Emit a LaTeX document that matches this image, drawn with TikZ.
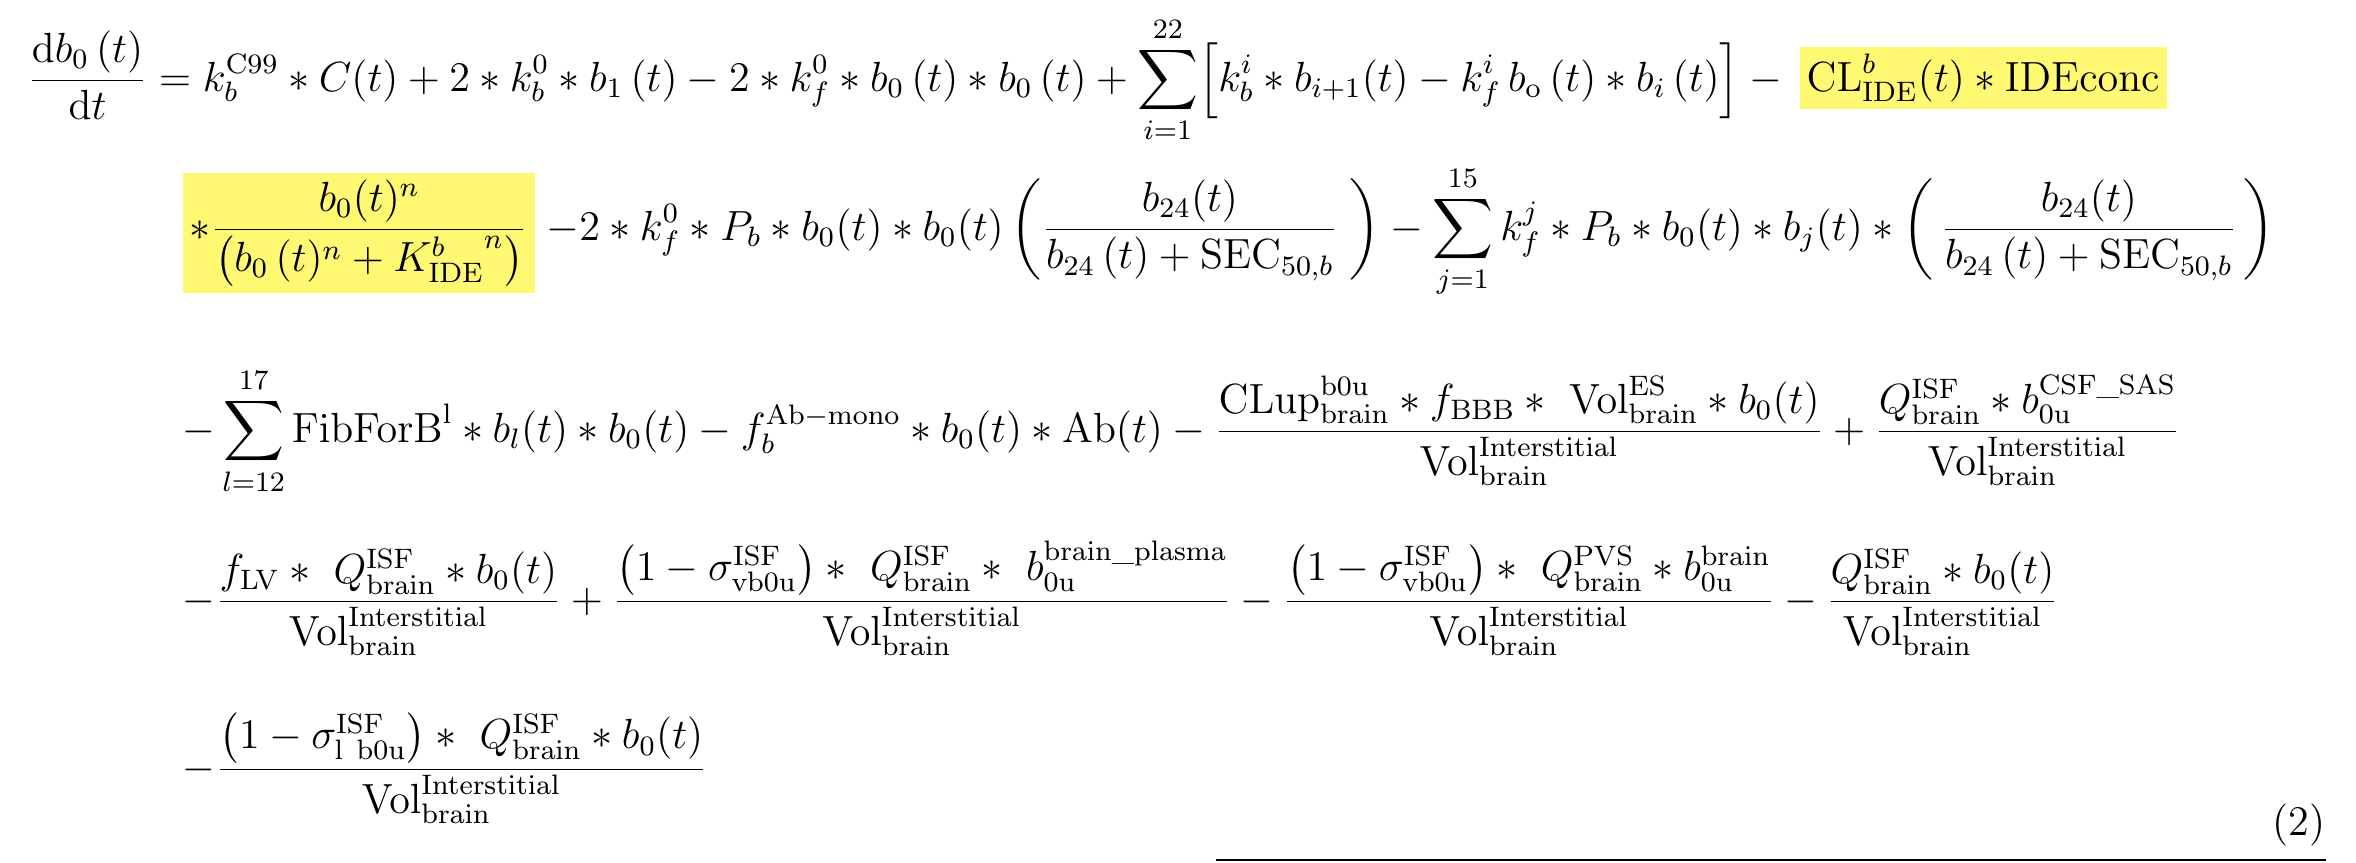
\documentclass[tikz,border=0pt]{standalone}
\usepackage{amsmath}
\usetikzlibrary{positioning}
\newcommand{\volint}{\mathrm{Vol}^{\mathrm{Interstitial}}_{\mathrm{brain}}}
\newcommand{\qisf}{Q^{\mathrm{ISF}}_{\mathrm{brain}}}
\newcommand{\secfrac}{\frac{b_{24}(t)}{b_{24}\,(t)+\mathrm{SEC}_{50,b}}}
\tikzset{eqline/.style={anchor=base west,inner sep=0pt,font=\large},
hilite/.style={eqline,fill=yellow!55,inner sep=2pt}}
\begin{document}
\begin{tikzpicture}
\useasboundingbox (0,0) rectangle (23.56,-8.62);
% first line
\node (la) [eqline] at (0.27,-0.91) {$\displaystyle \frac{\mathrm{d}b_0\,(t)}{\mathrm{d}t} = k_b^{\mathrm{C99}} * C(t) + 2*k_b^0*b_1\,(t) - 2*k_f^0*b_0\,(t)*b_0\,(t) + \sum_{i=1}^{22}\Bigl[k_b^i*b_{i+1}(t) - k_f^i\, b_{\mathrm{o}}\,(t)*b_i\,(t)\Bigr] -{}$};
\node (lb) [hilite,right=2pt of la.base east,anchor=base west] {$\displaystyle \mathrm{CL}_{\mathrm{IDE}}^{b}(t)*\mathrm{IDEconc}$};
% second line
\node (lc) [hilite] at (1.82,-2.40) {$\displaystyle *\frac{b_0(t)^n}{\bigl(b_0\,(t)^n + {K_{\mathrm{IDE}}^{b}}^{n}\bigr)}$};
\node (ld) [eqline,right=3pt of lc.base east,anchor=base west] {$\displaystyle -2*k_f^0*P_b*b_0(t)*b_0(t)\left(\secfrac\;\right) - \sum_{j=1}^{15} k_f^j*P_b*b_0(t)*b_j(t)*\left(\,\secfrac\,\right)$};
% third line
\node (le) [eqline] at (1.82,-4.42) {$\displaystyle -\sum_{l=12}^{17}\mathrm{FibForB}^{\mathrm{l}}*b_l(t)*b_0(t) - f_b^{\mathrm{Ab-mono}}*b_0(t)*\mathrm{Ab}(t) - \frac{\mathrm{CLup}^{\mathrm{b0u}}_{\mathrm{brain}}*f_{\mathrm{BBB}}*\ \mathrm{Vol}^{\mathrm{ES}}_{\mathrm{brain}}*b_0(t)}{\volint} + \frac{\qisf*b^{\mathrm{CSF\_SAS}}_{0\mathrm{u}}}{\volint}$};
% fourth line
\node (lf) [eqline] at (1.82,-6.12) {$\displaystyle -\frac{f_{\mathrm{LV}}*\ \qisf*b_0(t)}{\volint} + \frac{\bigl(1-\sigma^{\mathrm{ISF}}_{\mathrm{vb0u}}\bigr)*\ \qisf*\ b^{\mathrm{brain\_plasma}}_{0\mathrm{u}}}{\volint} - \frac{\bigl(1-\sigma^{\mathrm{ISF}}_{\mathrm{vb0u}}\bigr)*\ Q^{\mathrm{PVS}}_{\mathrm{brain}}*b^{\mathrm{brain}}_{0\mathrm{u}}}{\volint} - \frac{\qisf*b_0(t)}{\volint}$};
% fifth line
\node (lg) [eqline] at (1.82,-7.80) {$\displaystyle -\frac{\bigl(1-\sigma^{\mathrm{ISF}}_{\mathrm{l\ b0u}}\bigr)*\ \qisf*b_0(t)}{\volint}$};
\node (num) [eqline,anchor=base east] at (23.26,-8.35) {(2)};
\coordinate (rl) at (12.16,-8.60);
\coordinate (rr) at (23.26,-8.60);
\draw (rl) -- (rr);
\end{tikzpicture}
\end{document}
